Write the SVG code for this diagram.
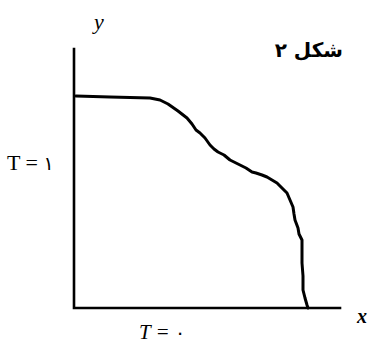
<svg xmlns="http://www.w3.org/2000/svg" width="371" height="346" viewBox="0 0 371 346">
<style>
.ax{fill:none;stroke:#000;stroke-width:2.6;stroke-linecap:square}
.cv{fill:none;stroke:#000;stroke-width:3;stroke-linejoin:round;stroke-linecap:round}
.lb{font-family:"Liberation Serif",serif;fill:#000}
.fa{font-family:"DejaVu Sans","Noto Sans",sans-serif;fill:#000}
</style>
<rect width="371" height="346" fill="#fff"/>
<g id="connectors">
<path class="ax" d="M74,49 L74,308 L340,308"/>
<path class="cv" d="M76,96 L110,97 L150,98 L160,100 L168,104 L178,111 L187,118 L192,124 L196,130 L200,133 L205,138 L210,145 L214,149 L218,152 L224,155 L230,160 L236,163 L240,165 L246,168 L252,172 L256,173 L262,175 L267,177 L272,180 L277,183 L282,188 L287,193 L290,200 L293,207 L294,214 L295,220 L298,228 L299,234 L302,240 L302,252 L302,263 L303,276 L303,290 L305,298 L307,305 L308,308"/>
</g>
<g id="label-y"><text class="lb" x="94" y="29" font-size="22" font-style="italic">y</text></g>
<g id="label-x"><text class="lb" x="357" y="323" font-size="20" font-style="italic" font-weight="bold">x</text></g>
<g id="label-t1"><text class="lb" x="7" y="170" font-size="22">T = <tspan class="fa" font-size="19">۱</tspan></text></g>
<g id="label-t0"><text class="lb" x="139" y="339" font-size="21" font-style="italic">T = <tspan class="fa" font-size="19" font-style="normal">۰</tspan></text></g>
<g id="title"><text class="fa" x="343" y="57" font-size="20" font-weight="bold" text-anchor="end">شکل ۲</text></g>
</svg>
